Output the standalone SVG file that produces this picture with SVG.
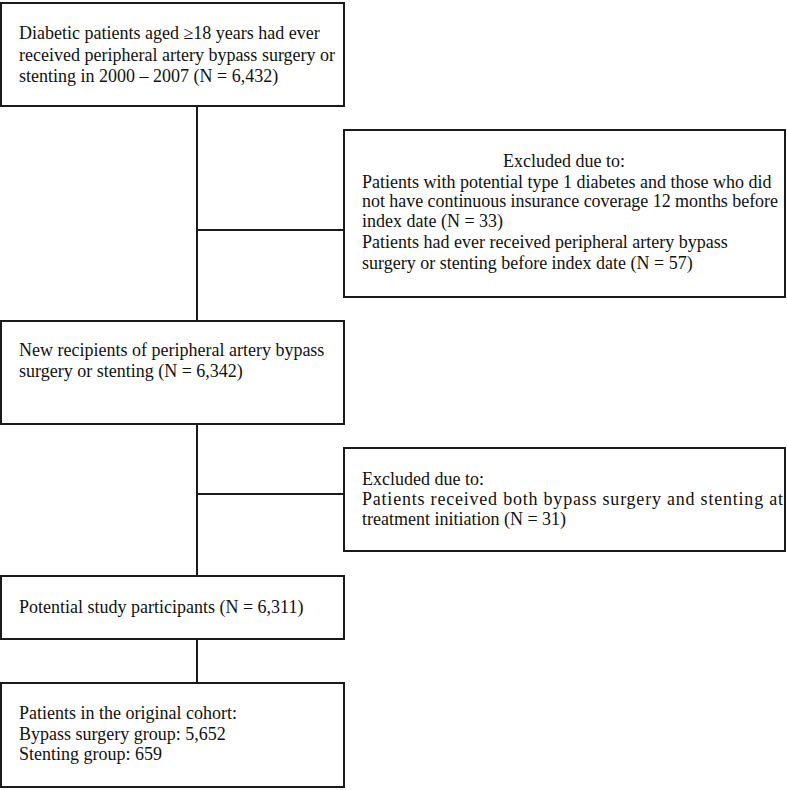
<svg xmlns="http://www.w3.org/2000/svg" width="787" height="790" viewBox="0 0 787 790">
<style>
.box{fill:#fff;stroke:#1a1a1a;stroke-width:2}
.ln{stroke:#1a1a1a;stroke-width:2;fill:none}
text{font-family:"Liberation Serif","Times New Roman",serif;font-size:18px;fill:#111}
</style>
<rect width="787" height="790" fill="#fff"/>
<g id="connectors">
<line class="ln" x1="197" y1="106" x2="197" y2="321"/>
<line class="ln" x1="197" y1="230" x2="344" y2="230"/>
<line class="ln" x1="197" y1="424" x2="197" y2="576"/>
<line class="ln" x1="197" y1="494" x2="344" y2="494"/>
<line class="ln" x1="197" y1="639" x2="197" y2="683"/>
</g>
<g id="n1">
<rect class="box" x="1" y="3" width="343" height="103"/>
<text x="19" y="39">Diabetic patients aged ≥18 years had ever</text>
<text x="19" y="61">received peripheral artery bypass surgery or</text>
<text x="19" y="82">stenting in 2000 – 2007 (N = 6,432)</text>
</g>
<g id="n2">
<rect class="box" x="344" y="130" width="441" height="167"/>
<text x="564" y="167" text-anchor="middle">Excluded due to:</text>
<text x="362" y="188">Patients with potential type 1 diabetes and those who did</text>
<text x="362" y="207" textLength="416" lengthAdjust="spacing">not have continuous insurance coverage 12 months before</text>
<text x="362" y="227">index date (N = 33)</text>
<text x="362" y="248">Patients had ever received peripheral artery bypass</text>
<text x="362" y="269">surgery or stenting before index date (N = 57)</text>
</g>
<g id="n3">
<rect class="box" x="1" y="321" width="343" height="103"/>
<text x="19" y="356">New recipients of peripheral artery bypass</text>
<text x="19" y="377">surgery or stenting (N = 6,342)</text>
</g>
<g id="n4">
<rect class="box" x="344" y="448" width="441" height="103"/>
<text x="362" y="485">Excluded due to:</text>
<text x="362" y="505" textLength="421" lengthAdjust="spacing">Patients received both bypass surgery and stenting at</text>
<text x="362" y="525">treatment initiation (N = 31)</text>
</g>
<g id="n5">
<rect class="box" x="1" y="576" width="343" height="63"/>
<text x="19" y="613">Potential study participants (N = 6,311)</text>
</g>
<g id="n6">
<rect class="box" x="1" y="683" width="343" height="104"/>
<text x="19" y="719">Patients in the original cohort:</text>
<text x="19" y="740">Bypass surgery group: 5,652</text>
<text x="19" y="760">Stenting group: 659</text>
</g>
</svg>
